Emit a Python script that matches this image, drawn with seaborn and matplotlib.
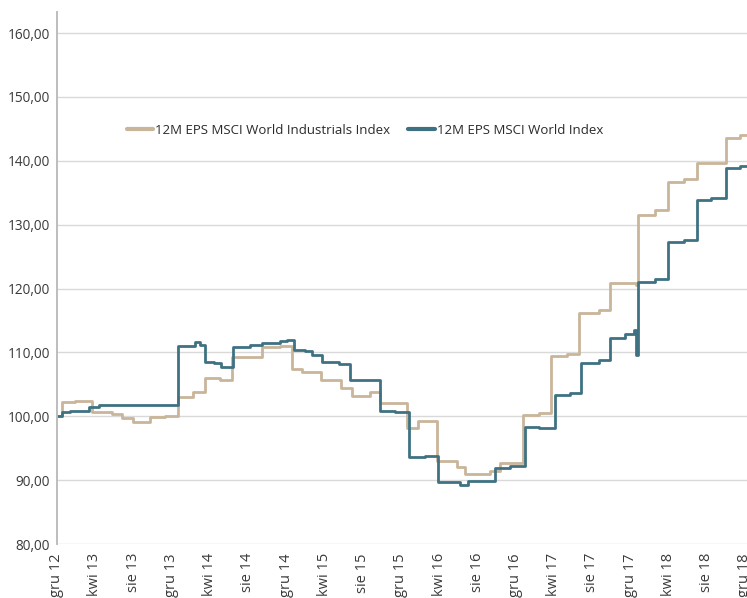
import matplotlib
matplotlib.use("Agg")
import matplotlib.pyplot as plt
import matplotlib.dates as mdates
import matplotlib.ticker as mticker
import pandas as pd
import seaborn as sns


INDUSTRIALS_LABEL = "12M EPS MSCI World Industrials Index"
WORLD_LABEL = "12M EPS MSCI World Index"

# step breakpoints (value holds until the next date)
INDUSTRIALS_DATES = [
    "2012-12-01", "2012-12-17", "2013-01-28", "2013-03-21", "2013-05-24",
    "2013-06-25", "2013-07-30", "2013-09-22", "2013-11-10", "2013-12-21",
    "2014-02-07", "2014-03-16", "2014-05-04", "2014-06-13", "2014-09-14",
    "2014-11-10", "2014-12-19", "2015-01-22", "2015-03-22", "2015-05-25",
    "2015-06-28", "2015-08-24", "2015-09-25", "2015-12-22", "2016-01-25",
    "2016-03-25", "2016-05-28", "2016-06-22", "2016-09-10", "2016-10-13",
    "2016-12-25", "2017-02-15", "2017-03-25", "2017-05-13", "2017-06-22",
    "2017-08-25", "2017-09-28", "2017-11-25", "2017-12-19", "2017-12-25",
    "2018-02-18", "2018-04-01", "2018-05-22", "2018-07-01", "2018-10-01",
    "2018-11-16", "2018-12-12",
]
INDUSTRIALS_VALUES = [
    100.0, 102.2, 102.4, 100.6, 100.4,
    99.7, 99.1, 99.9, 100.1, 103.0,
    103.8, 106.0, 105.7, 109.3, 110.8,
    111.0, 107.4, 106.9, 105.7, 104.4,
    103.2, 103.8, 102.1, 98.2, 99.3,
    93.0, 92.1, 90.9, 91.4, 92.7,
    100.2, 100.5, 109.4, 109.7, 116.1,
    116.6, 120.8, 120.9, 120.5, 131.5,
    132.3, 136.6, 137.1, 139.6, 143.5,
    144.0, 144.0,
]

WORLD_DATES = [
    "2012-12-01", "2012-12-17", "2013-01-12", "2013-02-28", "2013-03-14",
    "2013-04-15", "2013-12-21", "2014-02-14", "2014-03-01", "2014-03-16",
    "2014-04-15", "2014-05-09", "2014-06-15", "2014-08-07", "2014-09-14",
    "2014-11-10", "2014-12-04", "2014-12-25", "2015-01-30", "2015-02-21",
    "2015-03-25", "2015-05-19", "2015-06-21", "2015-09-25", "2015-11-13",
    "2015-12-28", "2016-02-15", "2016-03-28", "2016-06-07", "2016-07-01",
    "2016-09-25", "2016-11-13", "2016-12-30", "2017-02-15", "2017-04-04",
    "2017-05-22", "2017-06-28", "2017-08-25", "2017-09-28", "2017-11-13",
    "2017-12-13", "2017-12-19", "2017-12-25", "2018-02-18", "2018-04-01",
    "2018-05-22", "2018-07-01", "2018-08-16", "2018-10-01", "2018-11-16",
    "2018-12-12",
]
WORLD_VALUES = [
    100.0, 100.6, 100.9, 100.8, 101.5,
    101.8, 111.0, 111.6, 111.2, 108.5,
    108.3, 107.7, 110.8, 111.1, 111.5,
    111.8, 112.0, 110.4, 110.2, 109.6,
    108.5, 108.2, 105.7, 100.9, 100.6,
    93.6, 93.8, 89.7, 89.3, 89.8,
    91.9, 92.2, 98.3, 98.1, 103.3,
    103.6, 108.3, 108.8, 112.2, 112.9,
    113.5, 109.6, 121.0, 121.5, 127.3,
    127.6, 133.8, 134.2, 138.8, 139.2,
    139.2,
]

TICK_DATES = [
    "2012-12-01", "2013-04-01", "2013-08-01", "2013-12-01", "2014-04-01",
    "2014-08-01", "2014-12-01", "2015-04-01", "2015-08-01", "2015-12-01",
    "2016-04-01", "2016-08-01", "2016-12-01", "2017-04-01", "2017-08-01",
    "2017-12-01", "2018-04-01", "2018-08-01", "2018-12-01",
]
TICK_LABELS = [
    "gru 12", "kwi 13", "sie 13", "gru 13", "kwi 14",
    "sie 14", "gru 14", "kwi 15", "sie 15", "gru 15",
    "kwi 16", "sie 16", "gru 16", "kwi 17", "sie 17",
    "gru 17", "kwi 18", "sie 18", "gru 18",
]
Y_TICKS = [80, 90, 100, 110, 120, 130, 140, 150, 160]

COLORS = {INDUSTRIALS_LABEL: "#c9b599", WORLD_LABEL: "#3e7282"}


def build_frame() -> pd.DataFrame:
    ind = pd.DataFrame({"date": pd.to_datetime(INDUSTRIALS_DATES),
                        "value": INDUSTRIALS_VALUES, "series": INDUSTRIALS_LABEL})
    wld = pd.DataFrame({"date": pd.to_datetime(WORLD_DATES),
                        "value": WORLD_VALUES, "series": WORLD_LABEL})
    return pd.concat([ind, wld], ignore_index=True)


def main():
    data = build_frame()

    sns.set_style("white")
    plt.rcParams["font.family"] = ["Open Sans", "DejaVu Sans"]

    fig = plt.figure(figsize=(7.47, 5.98), dpi=100)
    ax = fig.add_axes([0.0763, 0.0903, 0.9237, 0.8897])

    sns.lineplot(data=data, x="date", y="value", hue="series",
                 palette=COLORS, drawstyle="steps-post", linewidth=2.0,
                 estimator=None, ax=ax)

    ax.set_ylim(80, 163.3)
    ax.set_xlim(pd.Timestamp("2012-12-01"), pd.Timestamp("2018-12-08"))
    ax.set_yticks(Y_TICKS)
    ax.yaxis.set_major_formatter(
        mticker.FuncFormatter(lambda v, _: f"{v:.2f}".replace(".", ",")))
    ax.grid(axis="y", color="#d9d9d9", linewidth=1.0)
    ax.set_axisbelow(True)

    ax.set_xticks(pd.to_datetime(TICK_DATES))
    ax.set_xticklabels(TICK_LABELS, rotation=90, va="top")
    ax.xaxis.set_minor_locator(mdates.MonthLocator(bymonth=[2, 6, 10]))

    for side in ["top", "right", "bottom"]:
        ax.spines[side].set_visible(False)
    ax.spines["left"].set_color("#bdbdbd")
    ax.spines["left"].set_linewidth(1.4)

    ax.tick_params(axis="y", length=3, color="#bdbdbd", labelsize=9.8,
                   labelcolor="#3a3a3a", pad=2)
    ax.tick_params(axis="x", which="both", length=3, color="#bdbdbd",
                   labelsize=10.5, labelcolor="#3a3a3a", pad=5, direction="inout")
    ax.set_xlabel("")
    ax.set_ylabel("")

    ax.legend(loc="center", bbox_to_anchor=(0.446, 0.778), ncol=2,
              frameon=False, fontsize=9.5, handlelength=2.0, handletextpad=0.15,
              columnspacing=1.4, labelcolor="#2a2a2a")
    for line in ax.get_legend().get_lines():
        line.set_linewidth(3)

    fig.savefig("out.png", dpi=100)
    plt.close(fig)


if __name__ == "__main__":
    main()
